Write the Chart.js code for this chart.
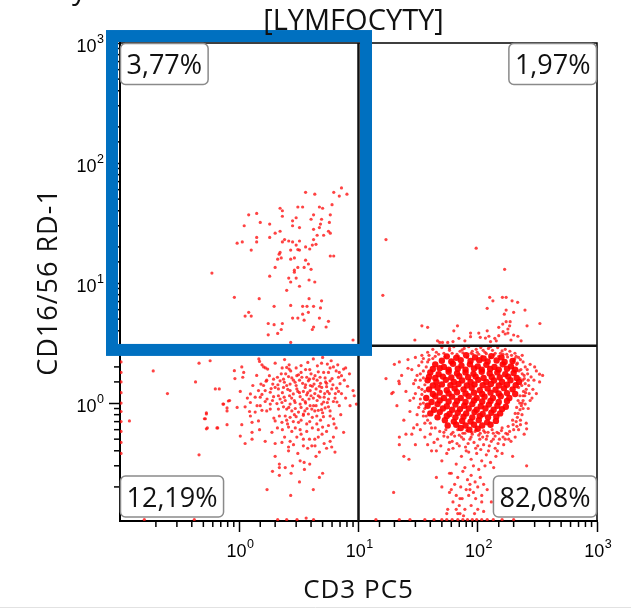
<!DOCTYPE html>
<html><head><meta charset="utf-8">
<script src="https://cdn.jsdelivr.net/npm/chart.js@4/dist/chart.umd.min.js"></script>
<style>html,body{margin:0;padding:0;background:#fff}canvas{display:block}</style>
</head><body>
<canvas id="c" width="631" height="609"></canvas>
<script>
const titleText = '[LYMFOCYTY]';
const xTitle = 'CD3 PC5';
const yTitle = 'CD16/56 RD-1';
const tickValues = [1, 10, 100, 1000];
const tickBase = '10';
const tickExponents = ['0', '1', '2', '3'];
const quadrantLabels = ['3,77%', '1,97%', '12,19%', '82,08%']; // UL, UR, LL, LR
const xRange = [0.1, 1000];
const yRange = [0.104, 1000];
const splitX = 10, splitY = 3;
const gateX = [0.0857, 11.56];
const gateY = [2.77, 1143];

const upperLeft = [[3.6,57],[4.3,55],[6.2,57],[7.2,62],[8.0,55],[6.9,53],[2.2,42],[2.3,40],[3.1,43],[3.4,43],[4.7,43],[5.0,42],[6.0,45],
[1.2,37],[1.4,38],[2.3,36],[3.0,35],[4.2,37],[5.8,37],[1.5,32],[1.8,31],[2.8,33],[4.0,34],[4.9,34],[4.8,31],[5.7,32],
[1.1,30],[2.8,30],[3.2,29],[4.7,29],[4.2,28],[5.6,27],[2.0,26],[2.2,27],[4.5,25],[5.1,25],[5.8,26],
[1.4,24],[1.8,24],[1.4,22],[1.06,22],[0.96,21.5],[2.3,22],[2.4,23],[2.6,22.4],[2.8,22],[3.2,22.4],[4.2,23],
[3.0,20.7],[3.1,19],[3.6,20],[4.1,20.7],[4.4,21],[3.9,19.2],[1.26,18.8],[2.2,18],[2.16,17.4],[2.7,18.8],[3.2,18.8],
[2.1,15.8],[2.25,16.2],[2.7,15.8],[2.9,16.2],[3.6,15.5],[5.8,16.8],[6.2,16.8],[3.8,14.4],[3.5,13.5],[4.0,13],[2.0,13.5],[3.1,13.5],[2.9,12.8],[2.9,12.3],
[0.59,12.1],[1.8,11.4],[2.6,11],[3.0,11],[3.85,10.6],[4.3,10.2],[2.7,10.2],[3.2,9.4],[2.5,8.7],
[0.91,7.6],[1.47,7.4],[3.85,7.4],[4.9,7.1],[2.7,6.5],[3.4,6.4],[3.7,6.4],[4.2,6.4],[1.96,6.4],[4.8,6.2],
[1.2,5.7],[1.12,5.3],[1.26,5.3],[3.4,5.5],[3.8,5.7],[2.8,5.1],[3.1,5.1],[3.5,4.9],[4.7,5.1],[5.6,4.8],
[1.75,4.6],[1.96,4.5],[2.3,4.6],[5.35,4.3],[4.2,4.3],[4.1,4.1],[2.25,4.1],[2.1,3.8],[1.75,3.7],[9.0,3.35],[2.7,3.2]];

const lowerLeft = [[0.46,2.15],[0.57,2.25],[1.46,2.33],[1.48,2.22],[1.55,2.08],[1.66,1.96],[1.73,1.92],[2.29,1.96],[2.5,1.98],[2.62,2.08],[2.62,1.92],[3.0,1.96],[3.76,2.18],[4.18,2.33],[5.0,2.4],[4.52,2.04],[5.48,2.11],[5.78,1.96],[6.16,2.0],[6.7,2.08],[7.5,1.92],[7.8,1.96],
[0.91,1.86],[1.05,2.0],[1.09,1.8],[0.92,1.6],[1.07,1.64],[1.79,1.69],[1.94,1.58],[2.09,1.64],[2.2,1.53],[2.35,1.58],[2.59,1.66],[2.76,1.62],[3.04,1.69],[3.14,1.72],[3.35,1.64],[3.68,1.64],[3.88,1.58],[4.32,1.69],[4.76,1.64],[5.25,1.62],[5.6,1.8],[6.8,1.64],[7.2,1.69],
[0.43,1.5],[1.52,1.44],[1.68,1.52],[1.91,1.44],[2.11,1.42],[2.39,1.49],[2.67,1.44],[2.94,1.49],[3.4,1.46],[3.8,1.53],[4.24,1.44],[4.8,1.46],[5.4,1.46],[5.78,1.53],
[0.63,1.31],[0.68,1.31],[1.02,1.25],[1.24,1.19],[1.45,1.27],[1.65,1.27],[1.82,1.23],[2.13,1.31],[2.35,1.35],[2.67,1.27],[3.04,1.31],[3.57,1.35],[3.93,1.27],[4.41,1.31],[4.92,1.35],[5.4,1.37],[5.96,1.31],[6.56,1.33],[9.0,1.27],[9.2,1.15],
[1.17,1.1],[1.36,1.12],[1.5,1.12],[1.71,1.08],[1.94,1.13],[2.13,1.15],[2.38,1.12],[2.64,1.15],[2.84,1.19],[3.24,1.13],[3.68,1.17],[4.18,1.1],[4.6,1.15],[5.15,1.12],[5.7,1.2],[6.35,1.1],
[0.83,1.05],[0.74,0.98],[0.79,0.91],[0.96,0.92],[1.12,0.93],[1.24,1.01],[1.41,0.95],[1.5,0.95],[1.65,1.03],[1.82,0.98],[2.07,0.99],[2.28,1.01],[2.43,1.05],[2.67,0.98],[2.94,1.01],[3.24,0.98],[3.57,1.03],[3.93,0.95],[4.41,0.95],[4.92,0.98],[5.48,1.01],[6.16,1.03],[9.6,0.98],
[1.22,0.85],[1.36,0.84],[1.55,0.87],[1.82,0.89],[2.13,0.89],[2.5,0.89],[2.76,0.86],[3.14,0.84],[3.45,0.81],[4.06,0.89],[4.6,0.87],[5.25,0.91],[5.78,0.86],
[0.53,0.81],[0.52,0.74],[1.24,0.78],[2.17,0.78],[2.43,0.78],[2.67,0.76],[3.0,0.77],[3.45,0.79],[3.8,0.81],[4.47,0.78],[5.08,0.77],[5.78,0.78],[6.16,0.74],
[0.79,0.66],[1.05,0.66],[1.28,0.69],[1.45,0.71],[2.0,0.71],[2.28,0.69],[2.54,0.67],[2.84,0.7],[3.14,0.69],[3.68,0.67],[4.47,0.67],[5.0,0.63],[5.6,0.65],[6.24,0.67],
[0.53,0.61],[0.66,0.62],[1.28,0.57],[1.48,0.6],[1.88,0.57],[2.09,0.62],[2.59,0.63],[2.76,0.58],[3.24,0.6],[3.68,0.58],[4.6,0.6],[5.4,0.58],[7.5,0.57],
[1.02,0.53],[1.28,0.5],[1.65,0.48],[2.0,0.46],[2.28,0.47],[2.67,0.48],[3.04,0.52],[3.45,0.5],[3.88,0.5],[4.6,0.52],[5.15,0.46],[5.78,0.48],[6.16,0.52],
[1.12,0.46],[2.59,0.43],[2.59,0.4],[3.45,0.44],[4.06,0.44],[4.32,0.44],[4.7,0.39],[5.96,0.43],[6.35,0.39],[0.46,0.37],
[3.24,0.33],[3.5,0.32],[2.17,0.31],[2.17,0.29],[2.43,0.29],[2.17,0.25],[2.72,0.26],[3.52,0.28],[4.7,0.24],[5.0,0.26],[1.71,0.19],[4.18,0.19],[2.7,0.17],[3.64,0.11],
[0.12,0.71],[0.53,0.83],[0.51,0.74],[0.54,0.62],[0.65,0.62],[0.17,0.23],[0.73,0.98],[0.79,0.86],[0.81,1.04],[0.19,1.85],[0.25,1.2],
[2.45,1.75],[2.85,1.55],[3.3,1.8],[3.6,1.42],[4.0,1.75],[4.5,1.55],[5.1,1.8],[2.55,1.3],[3.2,1.22],[3.75,1.22],[4.3,1.2],[4.8,1.25],[5.5,1.25],[2.3,1.22],[2.9,1.05],[3.4,1.07],[3.85,1.08],[4.5,1.05],[5.1,1.02],[2.6,0.92],[3.3,0.92],[3.7,0.9],[4.3,0.86],[4.9,0.88],[2.9,0.8],[4.1,0.76],[3.0,1.4],[4.1,1.38],[6.0,1.6],[6.4,1.2],[6.9,0.95],[7.0,1.45],[1.9,1.05],[2.0,1.35],[1.6,1.4],[6.5,1.85],[7.2,1.2],[8.1,1.38],
[1.6,2.0],[2.0,2.15],[2.4,2.3],[3.3,2.05],[3.9,1.9],[4.9,2.15],[5.9,2.25],[6.9,1.8],[1.4,1.7],[1.7,1.55],[2.25,1.75],[2.7,1.85],[3.2,1.55],[3.6,1.9],[4.2,1.6],[4.6,1.82],[5.3,1.5],[6.1,1.42],[7.6,1.55],[8.4,1.75],[1.3,1.4],[1.85,1.32],[2.5,1.4],[3.45,1.25],[3.95,1.4],[4.7,1.38],[5.2,1.2],[6.8,1.25],[7.8,1.1],[1.55,1.18],[2.2,1.08],[2.75,1.1],[3.1,1.25],[3.6,1.0],[4.0,1.15],[4.75,1.12],[5.6,1.08],[6.6,1.02],[8.5,0.95],[1.7,0.86],[2.35,0.93],[2.95,0.9],[3.55,0.86],[4.2,0.95],[5.0,0.83],[5.6,0.93],[7.1,0.8],[1.95,0.75],[2.5,0.72],[3.3,0.72],[3.9,0.7],[4.8,0.72],[6.5,0.62],[2.3,0.6],[2.95,0.62],[4.1,0.62],[4.95,0.55],[2.4,0.52],[3.3,0.55],[4.3,0.5],[2.85,0.45],[3.75,0.42],[5.4,0.42],[3.1,0.38],[4.4,0.36],[2.0,0.36],[3.9,0.31],[2.8,0.3],[1.9,0.27],[3.2,0.22]];

const upperRight = [[17,23],[97,19.5],[168,13],[16,7.9],[126,7.6],[134,7.1],[161,7.6],[173,7.6],[194,7.1],[216,6.9],[120,6.15],[173,5.95],[200,5.7],[249,5.95],[167,5.5],
[34,4.4],[38,4.27],[67.6,4.4],[63,4.0],[150,4.27],[162,4.55],[173,4.76],[187,4.76],[185,4.4],[179,4.14],[163,3.93],[170,3.76],[179,3.83],[200,3.69],[217,3.6],[259,4.4],[332,4.6],
[29.7,3.35],[69.5,3.46],[87,3.83],[87,3.57],[102,3.83],[120,4.0],[124,3.6],[116,3.48],[105,3.53],[139,3.46],[143,3.3],[150,3.64],[231,3.3],[50.6,3.2],[56,3.2],[48,3.2],
[46,3.3],[62,3.25],[78,3.3],[190,3.35],[128,3.25]];

const lowerRightCore = [[55,2.45],[66,2.38],[80,2.5],[95,2.4],[112,2.35],[130,2.46],[158,2.4],
[50,2.25],[60,2.22],[72,2.28],[87,2.24],[103,2.27],[121,2.22],[144,2.26],[168,2.2],[196,2.24],
[44,2.1],[52,2.0],[62,2.12],[73,2.05],[86,2.1],[100,2.02],[118,2.08],[138,2.0],[162,2.1],[190,2.02],
[42,1.92],[48,1.95],[57,1.9],[68,1.93],[79,1.9],[93,1.94],[108,1.9],[127,1.92],[150,1.9],[176,1.93],[206,1.9],
[40,1.8],[47,1.74],[57,1.82],[67,1.76],[79,1.8],[92,1.75],[108,1.82],[126,1.76],[146,1.8],[170,1.74],[200,1.78],
[39,1.65],[44,1.62],[51,1.66],[60,1.63],[70,1.67],[83,1.64],[96,1.66],[112,1.62],[131,1.65],[153,1.63],[180,1.66],[212,1.62],
[38,1.55],[45,1.5],[54,1.56],[63,1.5],[74,1.54],[87,1.5],[101,1.56],[118,1.5],[137,1.54],[160,1.5],[188,1.55],[222,1.5],
[42,1.4],[50,1.43],[59,1.41],[69,1.44],[81,1.4],[94,1.43],[110,1.41],[129,1.44],[150,1.4],[176,1.42],[208,1.41],
[39,1.3],[46,1.34],[55,1.28],[64,1.32],[76,1.3],[89,1.34],[104,1.28],[121,1.32],[141,1.29],[166,1.33],[196,1.3],
[42,1.19],[48,1.22],[57,1.2],[67,1.23],[79,1.2],[93,1.22],[109,1.19],[128,1.22],[150,1.2],[176,1.21],[206,1.19],
[37,1.1],[44,1.14],[52,1.1],[61,1.13],[72,1.1],[84,1.14],[98,1.1],[114,1.13],[134,1.1],[156,1.14],[184,1.1],
[41,1.02],[48,1.05],[57,1.03],[67,1.04],[79,1.02],[93,1.05],[109,1.03],[128,1.04],[150,1.02],[176,1.04],
[38,0.95],[46,0.98],[55,0.94],[65,0.97],[77,0.95],[90,0.98],[106,0.94],[124,0.97],[146,0.95],[172,0.93],
[43,0.88],[51,0.9],[61,0.88],[71,0.89],[84,0.9],[98,0.88],[116,0.9],[136,0.88],[160,0.89],
[40,0.82],[48,0.84],[58,0.81],[68,0.83],[80,0.82],[94,0.84],[110,0.81],[130,0.83],[154,0.82],
[46,0.76],[55,0.78],[65,0.76],[76,0.77],[90,0.76],[104,0.78],[122,0.76],[143,0.77],
[53,0.72],[63,0.7],[74,0.71],[87,0.7],[102,0.72],[120,0.69],[142,0.71],
[56,0.65],[66,0.66],[79,0.65],[93,0.66],[109,0.65],[128,0.66],
[72,0.62],[85,0.6],[100,0.61]];

const lowerRight = [[42,2.8],[50,2.9],[58,2.75],[63,2.95],[71,2.7],[77,2.85],[84,2.95],[90,2.7],[97,2.8],[106,2.9],[115,2.65],[123,2.85],[133,2.75],[147,2.9],[155,2.6],[170,2.8],[186,2.7],[205,2.6],[236,2.5],[34,2.5],[38,2.65],
[20,2.1],[23,1.7],[26,2.3],[22,1.45],[28,1.9],[30,1.55],[25,1.25],[32,1.35],[29,1.1],[21,0.95],[27,0.85],[33,0.98],[24,0.72],[31,0.66],[35,0.78],[28,0.55],[36,0.52],[22,0.45],[19,1.2],[17,1.6],[34,1.18],[35,1.62],[32,2.05],[36,0.9],[19.5,1.23],[19.7,0.18],[22,0.52],[24,0.36],[26.5,0.34],[22,2.2],[21.8,1.52],
[240,2.2],[260,1.9],[280,1.65],[300,2.0],[250,1.45],[270,1.2],[330,1.5],[240,1.05],[265,0.9],[235,0.8],[255,0.68],[220,0.6],[245,0.55],[290,1.3],[310,1.85],[228,2.3],[350,1.7],[232,0.95],[206,0.52],[213,0.64],[330,1.74],[257,0.3],[196,0.36],[257,0.61],
[40,0.55],[46,0.5],[52,0.57],[58,0.47],[64,0.53],[70,0.44],[76,0.5],[83,0.46],[90,0.55],[96,0.42],[104,0.5],[112,0.45],[120,0.53],[130,0.48],[140,0.42],[152,0.5],[165,0.45],[178,0.55],[190,0.48],[45,0.4],[55,0.38],[62,0.42],[73,0.36],[80,0.4],[88,0.34],[98,0.38],[108,0.33],[118,0.37],[128,0.32],[142,0.36],[160,0.38],[50,0.33],[66,0.31],[78,0.29],[92,0.3],[102,0.28],[115,0.3],[136,0.29],
[43,0.47],[49,0.44],[56,0.52],[61,0.48],[67,0.46],[73,0.52],[79,0.43],[86,0.5],[93,0.47],[100,0.44],[110,0.52],[125,0.44],[135,0.5],[148,0.46],[170,0.5],[57,0.41],[84,0.39],[106,0.41],[123,0.4],[146,0.4],
[60,0.26],[68,0.24],[75,0.27],[82,0.23],[88,0.25],[95,0.22],[105,0.24],[112,0.21],[64,0.21],[72,0.2],[80,0.19],[86,0.21],[92,0.18],[100,0.2],[58,0.18],[66,0.17],[74,0.16],[84,0.17],[96,0.16],[108,0.17],[120,0.19],[62,0.15],[70,0.14],[78,0.13],[88,0.14],[100,0.13],[68,0.12],[76,0.115],[94,0.12],[56,0.13],[130,0.15],[112,0.125],[50,0.2],[45,0.24],[140,0.22],[58,0.26],[60,0.19],[71,0.16],[66,0.13],[55,0.12],[71,0.12],[86,0.19],[108,0.15],
[36,1.42],[35,1.0],[38,2.2],[42,2.35],[200,2.25],[215,2.15],[230,1.9],[238,1.55],[242,1.25],[225,1.0],[218,0.82],[196,0.72],[180,0.64],[160,0.62],[44,0.62],[40,0.68],[37,0.78],
[26,1.95],[30,2.4],[33,1.75],[29,1.45],[34,1.3],[27,1.05],[31,0.8],[33,0.6],[29,0.62],[36,0.68],[38,0.45],[41,0.4],[30,0.45],[25,0.55],[35,2.35],[39,2.5],[45,2.65],[52,2.6],[67,2.55],[88,2.6],[102,2.55],[140,2.6],[175,2.55],[210,2.45],[250,2.0],[245,1.7],[265,1.55],[255,1.3],[248,1.15],[275,1.05],[240,0.9],[228,0.72],[210,0.7],[200,0.6],[185,0.58],[172,0.56],[60,0.55],[78,0.56],[95,0.58],[115,0.57],[135,0.56],[150,0.56],
[47,2.55],[53,2.42],[61,2.6],[69,2.45],[75,2.62],[82,2.4],[91,2.55],[99,2.65],[108,2.45],[118,2.58],[127,2.4],[137,2.52],[150,2.45],[163,2.55],[178,2.42],[192,2.5],[205,2.35],[220,2.4],[44,2.45],[58,2.85],[74,2.78],[111,2.75],[128,2.95],[160,2.72],
[212,2.1],[222,1.85],[236,1.75],[226,1.6],[246,1.6],[234,1.4],[220,1.35],[252,1.22],[240,1.15],[226,1.15],[218,1.05],[236,1.0],[250,0.98],[212,0.92],[226,0.88],[206,0.82],[215,0.76],[228,0.66],[198,0.66],[268,1.4],[285,1.1],[262,1.75],[275,2.1],[296,1.55],[310,1.2],
[34,2.2],[37,2.0],[35,1.85],[33,1.55],[36,1.25],[33,1.08],[35,0.85],[38,0.72],[41,0.62],[31,1.7],[30,1.2],[32,0.92],[39,2.3],
[48,0.58],[54,0.6],[62,0.57],[68,0.6],[75,0.56],[81,0.59],[89,0.57],[97,0.6],[105,0.56],[112,0.59],[122,0.57],[132,0.6],[145,0.57],[158,0.59],[52,0.53],[70,0.54],[88,0.52],[102,0.54],[118,0.5],[140,0.53],[163,0.52],[182,0.5]];

const edgeEvents = [[0.102,2.7],[0.102,2.2],[0.102,1.8],[0.102,1.5],[0.102,1.22],[0.102,1.0],[0.102,0.85],[0.102,0.7],[0.102,0.58],[0.102,0.47],[0.102,0.38],
[0.16,0.107],[0.42,0.107],[2.1,0.107],[2.5,0.107],[3.05,0.107],[4.2,0.107],[14,0.107],[22,0.107],[27,0.107],[36,0.107],[43,0.107],[50,0.107],[55,0.107],[61,0.107],[68,0.107],[75,0.107],[82,0.107],[90,0.107],[98,0.107],[108,0.107],[120,0.107],[135,0.107],[160,0.107],[200,0.107]];

const toPts = a => a.map(p => ({x: p[0], y: p[1]}));
const isMajor = t => !!t && tickValues.some(v => Math.abs(t.value - v) / v < 1e-6);

const dot = {pointRadius: 1.6, pointBorderWidth: 0, pointBackgroundColor: 'rgba(255,20,20,0.8)', pointHoverRadius: 1.6};

const labelFont = '"Liberation Sans", Arial, sans-serif';
function drawPowerLabel(ctx, exp, x, y, align) {
  ctx.font = '18px ' + labelFont;
  const wb = ctx.measureText(tickBase).width;
  ctx.font = '12.5px ' + labelFont;
  const we = ctx.measureText(exp).width;
  const total = wb + we + 0.5;
  const left = align === 'center' ? x - total / 2 : x - total;
  ctx.textAlign = 'left'; ctx.textBaseline = 'alphabetic';
  ctx.font = '18px ' + labelFont;
  ctx.fillText(tickBase, left, y);
  ctx.font = '12.5px ' + labelFont;
  ctx.fillText(exp, left + wb + 0.5, y - 9);
}

const decor = {
  id: 'decor',
  afterDatasetsDraw(chart) {
    const {ctx, chartArea: a, scales: {x, y}} = chart;
    ctx.save();
    ctx.strokeStyle = '#000'; ctx.lineWidth = 1.5;
    x.ticks.forEach(t => {
      if (isMajor(t)) return;
      const p = x.getPixelForValue(t.value);
      if (p < a.left + 2) return;
      ctx.beginPath(); ctx.moveTo(p, a.bottom); ctx.lineTo(p, a.bottom + 6); ctx.stroke();
    });
    y.ticks.forEach(t => {
      if (isMajor(t)) return;
      const p = y.getPixelForValue(t.value);
      if (p > a.bottom - 2) return;
      ctx.beginPath(); ctx.moveTo(a.left - 6, p); ctx.lineTo(a.left, p); ctx.stroke();
    });
    ctx.fillStyle = '#000';
    tickValues.forEach((v, i) => {
      drawPowerLabel(ctx, tickExponents[i], x.getPixelForValue(v) + 1, a.bottom + 36, 'center');
      drawPowerLabel(ctx, tickExponents[i], a.left - 16, y.getPixelForValue(v) + 9, 'right');
    });
    ctx.lineWidth = 1.5;
    ctx.beginPath(); ctx.moveTo(a.left, a.top); ctx.lineTo(a.right, a.top); ctx.lineTo(a.right, a.bottom); ctx.stroke();
    const qx = x.getPixelForValue(splitX), qy = y.getPixelForValue(splitY);
    ctx.strokeStyle = '#111'; ctx.lineWidth = 2.5;
    ctx.beginPath(); ctx.moveTo(qx, a.top); ctx.lineTo(qx, a.bottom); ctx.moveTo(a.left, qy); ctx.lineTo(a.right, qy); ctx.stroke();
    ctx.font = '27px "Open Sans", "Noto Sans", sans-serif';
    ctx.textBaseline = 'alphabetic'; ctx.textAlign = 'left';
    const boxes = [
      [quadrantLabels[0], 'l', 't'], [quadrantLabels[1], 'r', 't'],
      [quadrantLabels[2], 'l', 'b'], [quadrantLabels[3], 'r', 'b']
    ];
    boxes.forEach(([txt, hs, vs]) => {
      const w = ctx.measureText(txt).width + 12, h = 41;
      const bx = hs === 'l' ? a.left + 0.5 : a.right - w - 0.5;
      const by = vs === 't' ? a.top + 0.5 : a.bottom - 4 - h;
      ctx.beginPath(); ctx.roundRect(bx, by, w, h, 5);
      ctx.fillStyle = '#fff'; ctx.fill();
      ctx.strokeStyle = '#8a8a8a'; ctx.lineWidth = 1.5; ctx.stroke();
      ctx.fillStyle = '#111';
      ctx.fillText(txt, bx + 6, by + h / 2 + 10);
    });
    const gl = x.getPixelForValue(gateX[0]), gr = x.getPixelForValue(gateX[1]);
    const gt = y.getPixelForValue(gateY[1]), gb = y.getPixelForValue(gateY[0]);
    ctx.strokeStyle = '#0070C0'; ctx.lineWidth = 12;
    ctx.strokeRect(gl, gt, gr - gl, gb - gt);
    ctx.restore();
  },
  afterDraw(chart) {
    const {ctx, chartArea: a} = chart;
    ctx.save();
    ctx.fillStyle = '#111';
    ctx.textBaseline = 'alphabetic';
    ctx.font = '29px "Open Sans", "Noto Sans", sans-serif';
    ctx.textAlign = 'center';
    ctx.fillText(titleText, (a.left + a.right) / 2 - 5, 30);
    ctx.textAlign = 'left';
    ctx.fillText('y', 72, -1);
    ctx.font = '26px "Open Sans", "Noto Sans", sans-serif';
    ctx.letterSpacing = '1px';
    ctx.textAlign = 'center';
    ctx.fillText(xTitle, (a.left + a.right) / 2, 598);
    ctx.font = '27px "Open Sans", "Noto Sans", sans-serif';
    ctx.letterSpacing = '1px';
    ctx.translate(57, (a.top + a.bottom) / 2);
    ctx.rotate(-Math.PI / 2);
    ctx.fillText(yTitle, 0, 0);
    ctx.restore();
    ctx.save();
    ctx.strokeStyle = '#e2e2e2'; ctx.lineWidth = 1;
    ctx.beginPath(); ctx.moveTo(0, 607.5); ctx.lineTo(631, 607.5); ctx.stroke();
    ctx.restore();
  }
};

new Chart(document.getElementById('c'), {
  type: 'scatter',
  data: {datasets: [
    Object.assign({label: 'LL', data: toPts(lowerLeft)}, dot),
    Object.assign({label: 'UL', data: toPts(upperLeft)}, dot),
    Object.assign({label: 'UR', data: toPts(upperRight)}, dot),
    {label: 'LRcore', data: toPts(lowerRightCore), pointRadius: 3.2, pointBorderWidth: 0, pointBackgroundColor: 'rgba(255,0,0,0.92)', pointHoverRadius: 3.2},
    Object.assign({label: 'LR', data: toPts(lowerRight)}, dot),
    Object.assign({label: 'edge', data: toPts(edgeEvents)}, dot)
  ]},
  options: {
    responsive: false, devicePixelRatio: 1, animation: false,
    layout: {padding: {top: 43, right: 34, left: 0, bottom: 0}},
    plugins: {legend: {display: false}, tooltip: {enabled: false}},
    scales: {
      x: {
        type: 'logarithmic', min: xRange[0], max: xRange[1],
        afterFit: s => { s.height = 88; },
        border: {color: '#000', width: 2},
        grid: {drawOnChartArea: false, drawTicks: true, tickLength: 11, tickWidth: 1.5,
               tickColor: c => isMajor(c.tick) ? '#000' : 'rgba(0,0,0,0)'},
        ticks: {display: false, autoSkip: false}
      },
      y: {
        type: 'logarithmic', min: yRange[0], max: yRange[1],
        afterFit: s => { s.width = 120; },
        border: {color: '#000', width: 2},
        grid: {drawOnChartArea: false, drawTicks: true, tickLength: 11, tickWidth: 1.5,
               tickColor: c => isMajor(c.tick) ? '#000' : 'rgba(0,0,0,0)'},
        ticks: {display: false, autoSkip: false}
      }
    }
  },
  plugins: [decor]
});
</script>
</body></html>
